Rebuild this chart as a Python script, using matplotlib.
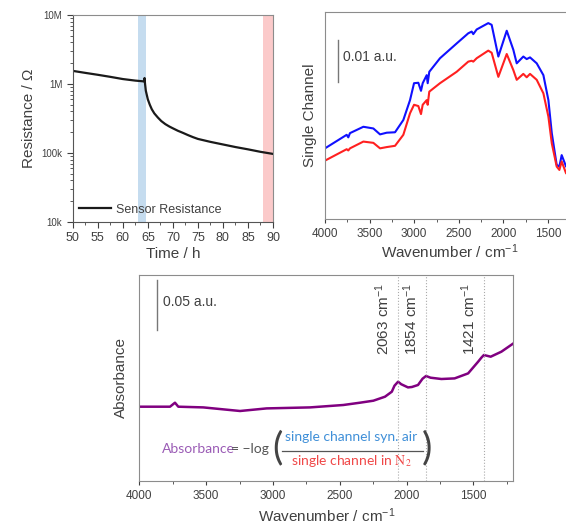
import matplotlib
matplotlib.use("Agg")
import matplotlib.pyplot as plt
from matplotlib.ticker import LogLocator, FixedLocator, NullFormatter, MultipleLocator

plt.rcParams['font.family'] = ['Liberation Sans', 'DejaVu Sans']
plt.rcParams['mathtext.fontset'] = 'custom'
plt.rcParams['mathtext.rm'] = 'Liberation Sans'
plt.rcParams['mathtext.it'] = 'Liberation Sans:italic'
plt.rcParams['mathtext.bf'] = 'Liberation Sans:bold'

# sensor resistance (time in h, resistance in ohm)
time_h = [50, 52.5, 55, 57.5, 60, 62.5, 64.3, 64.35, 64.45, 64.6, 65.0, 65.4, 65.8,
          66.3, 67.0, 67.7, 68.5, 69.3, 70, 71, 72, 73, 74, 75, 77.5, 80, 82.5, 85,
          87.5, 90]
resistance = [1.55e6, 1.45e6, 1.36e6, 1.27e6, 1.18e6, 1.12e6, 1.09e6, 1.22e6, 1.0e6,
              8.0e5, 6.0e5, 5.0e5, 4.3e5, 3.75e5, 3.27e5, 2.9e5, 2.62e5, 2.42e5,
              2.28e5, 2.1e5, 1.96e5, 1.82e5, 1.7e5, 1.6e5, 1.45e5, 1.33e5, 1.22e5,
              1.13e5, 1.04e5, 9.7e4]
air_band = (63.0, 64.6)
n2_band = (88.1, 90.0)

# single channel spectra (a.u.)
sc_wn = [4000, 3757, 3739, 3720, 3570, 3458, 3383, 3308, 3215, 3122, 3047, 3002, 2954,
         2924, 2905, 2860, 2849, 2831, 2711, 2524, 2394, 2356, 2338, 2300, 2170, 2132,
         2057, 1963, 1889, 1851, 1777, 1739, 1702, 1627, 1552, 1496, 1458, 1403, 1373,
         1347, 1298, 1200]
sc_air = [0.0167, 0.0199, 0.0193, 0.0203, 0.0218, 0.0214, 0.0200, 0.0204, 0.0205,
          0.0234, 0.0281, 0.0321, 0.0322, 0.0303, 0.0321, 0.0340, 0.0321, 0.0348,
          0.0380, 0.0415, 0.0439, 0.0443, 0.0437, 0.0448, 0.0463, 0.0459, 0.0384,
          0.0445, 0.0400, 0.0368, 0.0384, 0.0378, 0.0382, 0.0368, 0.0340, 0.0281,
          0.0203, 0.0128, 0.0124, 0.0151, 0.0124, 0.0110]
sc_n2 = [0.0138, 0.0165, 0.0162, 0.0167, 0.0183, 0.0180, 0.0167, 0.0170, 0.0173,
         0.0199, 0.0250, 0.0270, 0.0267, 0.0248, 0.0270, 0.0281, 0.0270, 0.0301,
         0.0321, 0.0348, 0.0372, 0.0374, 0.0372, 0.0380, 0.0398, 0.0393, 0.0336,
         0.0390, 0.0352, 0.0329, 0.0343, 0.0335, 0.0343, 0.0329, 0.0297, 0.0242,
         0.0179, 0.0124, 0.0116, 0.0136, 0.0108, 0.0095]

# absorbance spectrum (a.u.)
ab_wn = [4000, 3770, 3733, 3708, 3521, 3246, 3047, 2722, 2473, 2348, 2248, 2161, 2110,
         2090, 2063, 2040, 1989, 1960, 1914, 1880, 1854, 1820, 1739, 1640, 1539, 1464,
         1440, 1421, 1370, 1290, 1200]
absorb = [0.0, 0.0, 0.004, 0.0, -0.0007, -0.0043, -0.0017, -0.0007, 0.0017, 0.004,
          0.006, 0.010, 0.015, 0.021, 0.025, 0.0225, 0.0193, 0.0197, 0.0217, 0.028,
          0.0307, 0.029, 0.0277, 0.0283, 0.0333, 0.045, 0.049, 0.0517, 0.050, 0.055,
          0.0633]
peaks = [2063, 1854, 1421]

W, H = 566, 525
fig = plt.figure(figsize=(W / 100, H / 100), dpi=100)

def frac(l, r, t, b):
    return [l / W, 1 - b / H, (r - l) / W, (b - t) / H]

txt = '#404040'
spine = '#8c8c8c'
wn_label = r'Wavenumber / cm$^{\mathregular{-1}}$'

# ---- top left: resistance
ax1 = fig.add_axes(frac(72.7, 273, 15, 222))
ax1.axvspan(*air_band, color='#c5dcef', lw=0)
ax1.axvspan(*n2_band, color='#fbcaca', lw=0)
ax1.plot(time_h, resistance, color='#1a1a1a', lw=1.6, label='Sensor Resistance')
ax1.set_yscale('log')
ax1.set_xlim(50, 90)
ax1.set_ylim(1e4, 1e7)
ax1.set_xticks(range(50, 91, 5))
ax1.xaxis.set_minor_locator(MultipleLocator(2.5))
ax1.yaxis.set_major_locator(FixedLocator([1e4, 1e5, 1e6, 1e7]))
ax1.set_yticklabels(['10k', '100k', '1M', '10M'])
ax1.yaxis.set_minor_locator(LogLocator(subs=range(2, 10)))
ax1.yaxis.set_minor_formatter(NullFormatter())
ax1.tick_params(axis='x', labelsize=9, colors=txt, length=4, width=0.8)
ax1.tick_params(axis='y', labelsize=7, colors=txt, length=4, width=0.8)
ax1.tick_params(which='minor', length=2, width=0.6, colors=txt)
for s in ['top', 'right']:
    ax1.spines[s].set_color(spine)
for s in ['left', 'bottom']:
    ax1.spines[s].set_color('#555555')
ax1.set_xlabel('Time / h', fontsize=11, color=txt, labelpad=2)
ax1.set_ylabel('Resistance / \u03a9', fontsize=11, color=txt, labelpad=4)
ax1.legend(loc='lower left', frameon=False, fontsize=9, handlelength=2.6,
           borderaxespad=0.1, labelcolor=txt, handletextpad=0.4)

# ---- top right: single channel
ax2 = fig.add_axes(frac(325, 574.8, 11.7, 219))
ax2.plot(sc_wn, sc_air, color='#1010ff', lw=1.5)
ax2.plot(sc_wn, sc_n2, color='#ff2020', lw=1.5)
ax2.set_xlim(4000, 1200)
ax2.set_ylim(0, 0.049)
ax2.set_xticks([4000, 3500, 3000, 2500, 2000, 1500])
ax2.xaxis.set_minor_locator(MultipleLocator(250))
ax2.set_yticks([])
ax2.tick_params(axis='x', labelsize=8.5, colors=txt, length=3, width=0.8)
ax2.tick_params(which='minor', length=2, width=0.6, colors=txt)
for s in ax2.spines.values():
    s.set_color(spine)
ax2.plot([3851, 3851], [0.0423, 0.0323], color='#777777', lw=1)
ax2.text(3800, 0.0383, '0.01 a.u.', fontsize=10, color=txt, va='center', ha='left')
ax2.set_xlabel(wn_label, fontsize=11, color=txt, labelpad=2)
ax2.set_ylabel('Single Channel', fontsize=11, color=txt, labelpad=6)

# ---- bottom: absorbance
ax3 = fig.add_axes(frac(139.3, 513.4, 275, 481))
ax3.plot(ab_wn, absorb, color='#800080', lw=1.8)
ax3.set_xlim(4000, 1200)
ax3.set_ylim(-0.0743, 0.1317)
ax3.set_xticks([4000, 3500, 3000, 2500, 2000, 1500])
ax3.xaxis.set_minor_locator(MultipleLocator(250))
ax3.set_yticks([])
ax3.tick_params(axis='x', labelsize=8.5, colors=txt, length=3, width=0.8)
ax3.tick_params(which='minor', length=2, width=0.6, colors=txt)
for s in ax3.spines.values():
    s.set_color(spine)
for p in peaks:
    ax3.axvline(p, color='#aaaaaa', lw=0.8, ls=':')
    ax3.text(p + 45, 0.052, f'{p} cm' + r'$^{\mathregular{-1}}$', rotation=90,
             fontsize=11, color=txt, ha='right', va='bottom')
ax3.plot([3865, 3865], [0.1267, 0.0767], color='#777777', lw=1)
ax3.text(3820, 0.105, '0.05 a.u.', fontsize=10, color=txt, va='center', ha='left')
ax3.set_xlabel(wn_label, fontsize=11, color=txt, labelpad=3)
ax3.set_ylabel('Absorbance', fontsize=11, color=txt, labelpad=8)

# formula
tf = ax3.transAxes
ax3.text(0.06, 0.154, 'Absorbance', transform=tf, fontsize=10, color='#9a5bb5',
         family='Lato', va='center', ha='left')
ax3.text(0.245, 0.154, '= \u2212log', transform=tf, fontsize=10, color='#555555',
         family='Lato', va='center', ha='left')
ax3.text(0.368, 0.16, '(', transform=tf, fontsize=28, color='#444444',
         family='Lato', fontweight='normal', va='center', ha='center')
ax3.text(0.768, 0.16, ')', transform=tf, fontsize=28, color='#444444',
         family='Lato', fontweight='normal', va='center', ha='center')
ax3.text(0.567, 0.215, 'single channel syn. air', transform=tf, fontsize=10,
         color='#3f8fd8', family='Lato', va='center', ha='center')
ax3.plot([0.381, 0.759], [0.147, 0.147], transform=tf, color='#555555', lw=0.9)
ax3.text(0.567, 0.095, r'single channel in $\mathrm{N}_2$', transform=tf, fontsize=10,
         color='#f04848', family='Lato', math_fontfamily='stix', va='center', ha='center')

fig.savefig('out.png', dpi=100)
